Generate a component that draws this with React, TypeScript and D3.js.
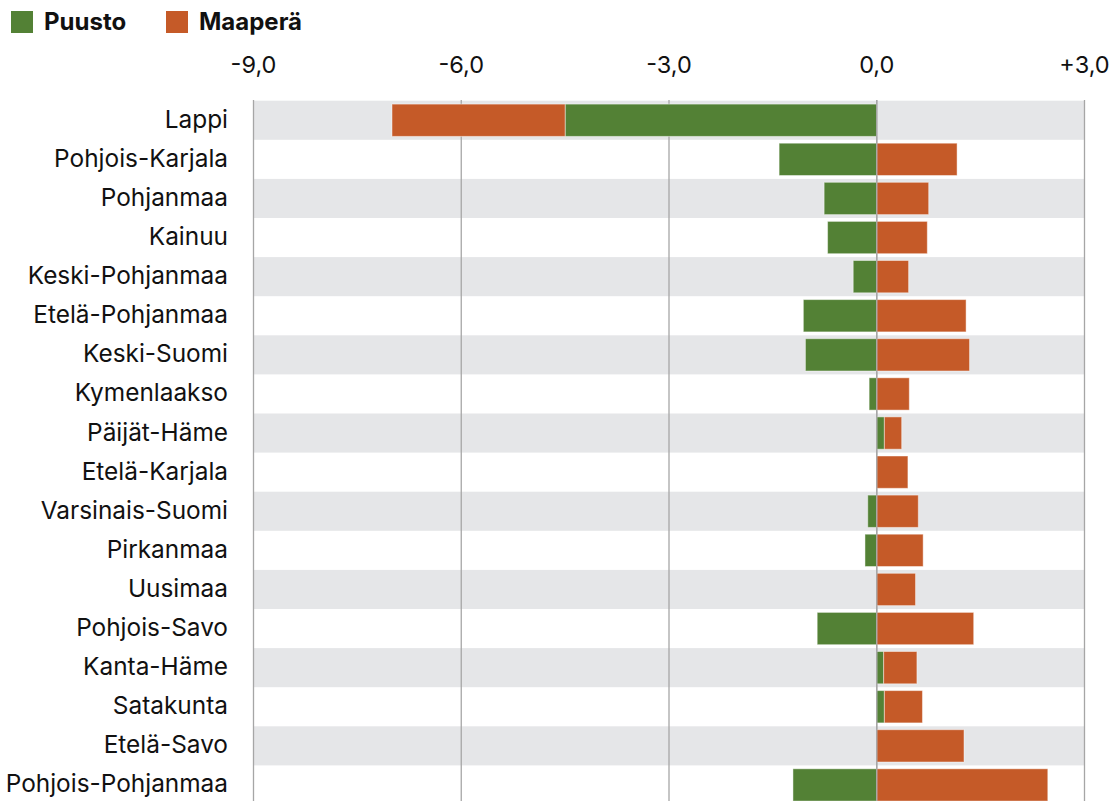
import React from "react";
import * as d3 from "d3";

const regions = [
  "Lappi", "Pohjois-Karjala", "Pohjanmaa", "Kainuu", "Keski-Pohjanmaa",
  "Etelä-Pohjanmaa", "Keski-Suomi", "Kymenlaakso", "Päijät-Häme", "Etelä-Karjala",
  "Varsinais-Suomi", "Pirkanmaa", "Uusimaa", "Pohjois-Savo", "Kanta-Häme",
  "Satakunta", "Etelä-Savo", "Pohjois-Pohjanmaa",
];
const puusto = [-4.5, -1.41, -0.76, -0.71, -0.34, -1.06, -1.03, -0.11, 0.11, 0.0, -0.13, -0.17, 0.0, -0.86, 0.1, 0.11, 0.0, -1.21];
const maapera = [-2.5, 1.16, 0.75, 0.73, 0.46, 1.29, 1.34, 0.47, 0.25, 0.45, 0.6, 0.67, 0.56, 1.4, 0.48, 0.55, 1.26, 2.47];
const seriesNames = ["Puusto", "Maaperä"];
const seriesColors = ["#538135", "#C55A28"];
const tickValues = [-9, -6, -3, 0, 3];
const tickLabels = ["-9,0", "-6,0", "-3,0", "0,0", "+3,0"];

const W = 1114;
const H = 801;
const FONT = "Inter, 'Noto Sans', sans-serif";

export default function App() {
  const x = d3.scaleLinear().domain([-9, 3]).range([253.5, 1084.5]);
  const y = d3.scaleBand<string>().domain(regions).range([100.7, 100.7 + 39.1 * 18]).paddingInner(0);
  const barPad = 3.4;
  const table = regions.map((r, i) => ({ region: r, Puusto: puusto[i], Maaperä: maapera[i] }));
  const stacked = d3.stack<any>().keys(seriesNames).offset(d3.stackOffsetDiverging)(table);

  return (
    <svg width={W} height={H} style={{ position: "absolute", left: 0, top: 0, background: "#fff" }} fontFamily={FONT}>
      {/* legend */}
      {seriesNames.map((s, i) => {
        const lx = [11, 166][i];
        return (
          <g key={s}>
            <rect x={lx} y={11} width={22} height={22} fill={seriesColors[i]} />
            <text x={lx + 33} y={29.5} fontSize={24} fontWeight={700} fill="#111">{s}</text>
          </g>
        );
      })}
      {/* bands */}
      {regions.map((r, i) =>
        i % 2 === 0 ? (
          <rect key={r} x={x(-9)} y={y(r)} width={x(3) - x(-9)} height={y.bandwidth()} fill="#E5E6E8" />
        ) : null
      )}
      {/* grid */}
      {tickValues.map((t, i) => (
        <g key={t}>
          <line x1={x(t)} x2={x(t)} y1={100} y2={H} stroke="#A6A6A6" strokeWidth={1.3} />
          <text x={x(t)} y={73} textAnchor="middle" fontSize={23.5} fill="#111">{tickLabels[i]}</text>
        </g>
      ))}
      {/* bars */}
      {stacked.map((ser, si) => (
        <g key={ser.key}>
          {ser.map((d: any, i: number) => {
            const x0 = x(Math.min(d[0], d[1]));
            const x1 = x(Math.max(d[0], d[1]));
            if (x1 - x0 < 0.01) return null;
            return (
              <rect key={i} x={x0} y={(y(regions[i]) as number) + barPad} width={x1 - x0}
                height={y.bandwidth() - 2 * barPad} fill={seriesColors[si]}
                stroke="rgba(255,255,255,0.45)" strokeWidth={1} />
            );
          })}
        </g>
      ))}
      {/* zero line on top */}
      <line x1={x(0)} x2={x(0)} y1={100} y2={H} stroke="#A6A6A6" strokeWidth={1.3} />
      {/* category labels */}
      {regions.map((r) => (
        <text key={r} x={228} y={(y(r) as number) + y.bandwidth() / 2 + 7.5} textAnchor="end" fontSize={24.4} fill="#111">{r}</text>
      ))}
    </svg>
  );
}
